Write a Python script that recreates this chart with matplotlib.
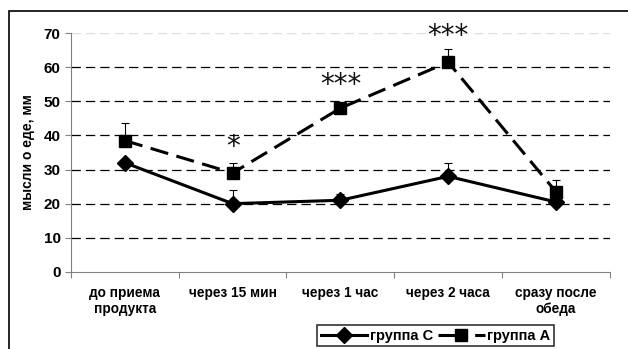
import matplotlib
matplotlib.use("Agg")
from matplotlib import pyplot as plt
from matplotlib.patches import Rectangle
import numpy as np

plt.rcParams['font.family'] = ['Liberation Sans', 'DejaVu Sans']

categories = ["до приема\nпродукта", "через 15 мин", "через 1 час", "через 2 часа", "сразу после\nобеда"]
group_c = [32, 20, 21, 28, 20.5]
group_c_err = [0, 4, 1.8, 4, 0]
group_a = [38.5, 29, 48, 61.5, 23.5]
group_a_err = [5.2, 3, 1, 4, 3.5]
stars = ["", "*", "***", "***", ""]
star_y = [0, 36.5, 54.8, 69.3, 0]

fig = plt.figure(figsize=(6.28, 3.49), dpi=100)
ax = fig.add_axes([0.113, 0.221, 0.858, 0.684])

x = np.arange(len(categories))

ax.errorbar(x, group_c, yerr=[np.zeros(5), group_c_err], fmt='none', ecolor='black',
            elinewidth=0.8, capsize=3, capthick=0.8, zorder=3)
ax.errorbar(x, group_a, yerr=[np.zeros(5), group_a_err], fmt='none', ecolor='black',
            elinewidth=0.8, capsize=3, capthick=0.8, zorder=3)
ax.plot(x, group_c, color='black', lw=2.2, marker='D', markersize=8.5, label='группа С', zorder=4)
ax.plot(x, group_a, color='black', lw=2.2, ls=(0, (6, 2.8)), marker='s', markersize=9,
        label='группа А', zorder=4)

for i in range(len(x)):
    if stars[i]:
        ax.text(x[i], star_y[i], stars[i], ha='center', va='center', fontsize=20,
                family='DejaVu Sans', color='#111111')

ax.set_xlim(-0.5, 4.5)
ax.set_ylim(0, 70)
ax.set_yticks(range(0, 71, 10))
ax.set_xticks(np.arange(-0.5, 5, 1))
ax.set_xticklabels([])
ax.set_xticks(x, minor=True)
ax.set_xticklabels(categories, minor=True, fontsize=9.8, fontweight='bold')
ax.tick_params(axis='x', which='minor', length=0, pad=10)
ax.tick_params(axis='x', which='major', length=4, direction='out', color='#808080')
ax.tick_params(axis='y', length=4, direction='out', color='#808080', labelsize=11)
for lbl in ax.get_yticklabels():
    lbl.set_fontweight('bold')

for v in range(10, 70, 10):
    ax.axhline(v, color='black', lw=0.9, ls=(0, (7.5, 4)), zorder=1)
ax.axhline(70, color='#dddddd', lw=0.9, ls=(0, (7.5, 4)), zorder=1)

for s in ['top', 'right']:
    ax.spines[s].set_visible(False)
ax.spines['left'].set_color('#808080')
ax.spines['bottom'].set_color('#808080')

ax.set_ylabel("мысли о еде, мм", fontsize=10, fontweight='bold', labelpad=6)

leg = fig.legend(loc='upper left', bbox_to_anchor=(317 / 628, 1 - 325 / 349), ncol=2, frameon=True,
                 fancybox=False, edgecolor='black', fontsize=10.5, handlelength=3.2,
                 columnspacing=0.3, handletextpad=0.2, borderpad=0.25, borderaxespad=0)
for t in leg.get_texts():
    t.set_fontweight('bold')
leg.get_frame().set_linewidth(1.2)
leg.get_lines()[1].set_linestyle((0, (9, 3)))

fig.patches.append(Rectangle((9 / 628, -0.1), 1.2, 1.1 - 11 / 349, transform=fig.transFigure,
                             fill=False, edgecolor='black', lw=1.2))

fig.savefig("out.png", dpi=100)
